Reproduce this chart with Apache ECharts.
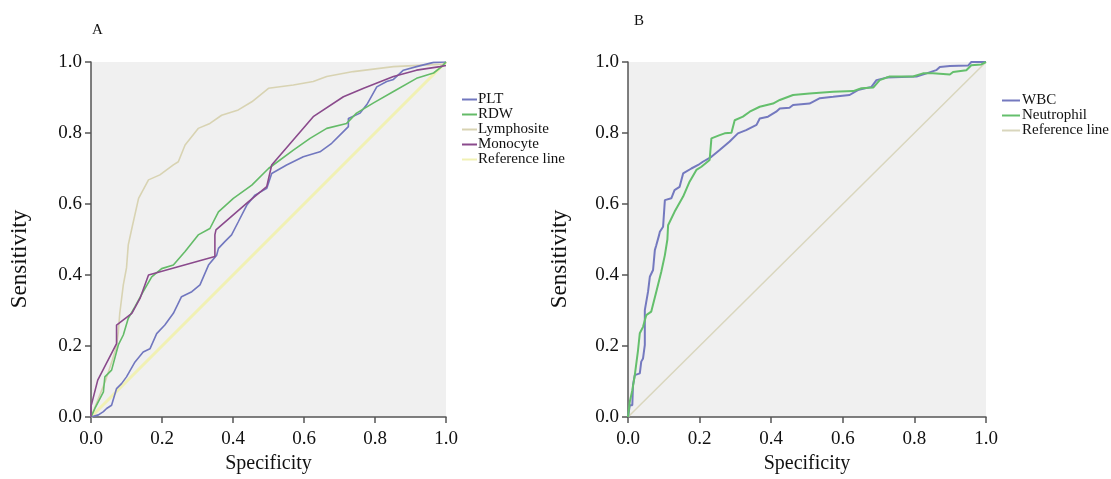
<!DOCTYPE html>
<html>
<head>
<meta charset="utf-8">
<script src="https://cdn.jsdelivr.net/npm/echarts@6/dist/echarts.min.js"></script>
<style>html,body{margin:0;padding:0;background:#fff;}#c{width:1111px;height:479px;}</style>
</head>
<body>
<div id="c"></div>
<script>
// ---- Panel A data ----
const pltX = [0,0.021,0.035,0.044,0.058,0.072,0.086,0.1,0.124,0.147,0.166,0.185,0.208,0.232,0.255,0.284,0.307,0.331,0.354,0.359,0.377,0.396,0.415,0.439,0.462,0.495,0.509,0.551,0.598,0.645,0.678,0.701,0.725,0.725,0.758,0.777,0.805,0.833,0.852,0.88,0.917,0.965,1.0];
const pltY = [0,0.006,0.015,0.024,0.033,0.08,0.094,0.113,0.155,0.183,0.192,0.235,0.259,0.292,0.339,0.353,0.372,0.428,0.456,0.475,0.494,0.513,0.55,0.597,0.625,0.644,0.686,0.71,0.733,0.747,0.771,0.794,0.818,0.841,0.856,0.88,0.93,0.945,0.951,0.977,0.987,0.999,1.0];
const rdwX = [0,0.011,0.035,0.039,0.058,0.077,0.091,0.105,0.124,0.147,0.171,0.199,0.232,0.265,0.302,0.335,0.359,0.401,0.453,0.5,0.57,0.617,0.664,0.72,0.748,0.796,0.852,0.917,0.965,0.988,1.0];
const rdwY = [0,0.024,0.071,0.113,0.132,0.203,0.231,0.278,0.311,0.353,0.395,0.418,0.428,0.466,0.513,0.531,0.578,0.616,0.653,0.7,0.752,0.785,0.813,0.827,0.856,0.885,0.917,0.954,0.969,0.987,1.0];
const lymX = [0,0.02,0.04,0.06,0.072,0.077,0.081,0.091,0.1,0.105,0.115,0.134,0.162,0.194,0.232,0.246,0.265,0.302,0.335,0.368,0.415,0.453,0.5,0.57,0.626,0.664,0.739,0.852,0.992,1.0];
const lymY = [0,0.05,0.1,0.16,0.2,0.24,0.292,0.372,0.42,0.485,0.531,0.616,0.668,0.682,0.71,0.719,0.766,0.813,0.827,0.85,0.865,0.888,0.926,0.935,0.945,0.959,0.973,0.987,0.994,1.0];
const monX = [0,0,0.019,0.072,0.072,0.115,0.138,0.162,0.349,0.349,0.352,0.443,0.495,0.509,0.626,0.711,0.768,0.852,0.917,0.983,1.0];
const monY = [0,0.03,0.104,0.207,0.259,0.292,0.334,0.40,0.452,0.513,0.527,0.606,0.649,0.71,0.846,0.902,0.926,0.959,0.977,0.987,0.99];
// ---- Panel B data ----
const wbcX = [0,0.005,0.012,0.014,0.019,0.033,0.037,0.042,0.047,0.047,0.051,0.056,0.061,0.07,0.075,0.079,0.087,0.089,0.098,0.103,0.121,0.13,0.144,0.154,0.177,0.196,0.209,0.233,0.256,0.284,0.307,0.33,0.359,0.368,0.391,0.414,0.424,0.451,0.461,0.507,0.536,0.573,0.619,0.642,0.68,0.694,0.722,0.806,0.834,0.861,0.871,0.899,0.95,0.959,1.0];
const wbcY = [0,0.033,0.033,0.09,0.118,0.123,0.156,0.165,0.203,0.301,0.306,0.353,0.395,0.414,0.47,0.484,0.513,0.522,0.536,0.611,0.616,0.639,0.648,0.686,0.7,0.71,0.719,0.733,0.752,0.776,0.799,0.808,0.823,0.841,0.846,0.86,0.869,0.871,0.879,0.883,0.898,0.902,0.907,0.921,0.93,0.949,0.956,0.959,0.968,0.977,0.986,0.989,0.99,1.0,1.0];
const neuX = [0,0.005,0.012,0.019,0.028,0.033,0.042,0.051,0.065,0.079,0.093,0.103,0.11,0.112,0.13,0.154,0.172,0.191,0.205,0.228,0.233,0.256,0.27,0.289,0.298,0.321,0.34,0.368,0.405,0.424,0.461,0.507,0.573,0.629,0.652,0.685,0.703,0.731,0.796,0.824,0.852,0.899,0.908,0.945,0.959,0.987,1.0];
const neuY = [0,0.043,0.075,0.118,0.188,0.236,0.254,0.287,0.297,0.353,0.409,0.456,0.5,0.54,0.578,0.621,0.663,0.696,0.705,0.724,0.785,0.794,0.799,0.801,0.836,0.846,0.86,0.874,0.883,0.893,0.907,0.911,0.916,0.918,0.926,0.928,0.949,0.959,0.959,0.968,0.968,0.965,0.972,0.977,0.991,0.993,1.0];
const refX = [0,1];
const refY = [0,1];
const tickLabels = ['0.0','0.2','0.4','0.6','0.8','1.0'];
const namesA = ['PLT','RDW','Lymphosite','Monocyte','Reference line'];
const namesB = ['WBC','Neutrophil','Reference line '];

const pairs = (xs, ys) => xs.map((x, i) => [x, ys[i]]);
const FONT = "'Liberation Serif','Times New Roman',serif";

function xAxisCfg(gi) {
  return {
    type: 'value', gridIndex: gi, min: 0, max: 1, interval: 0.2,
    name: 'Specificity', nameLocation: 'middle', nameGap: 35,
    nameTextStyle: {fontFamily: FONT, fontSize: 20, color: '#111'},
    axisLine: {show: true, onZero: false, lineStyle: {color: '#555', width: 1.5}},
    axisTick: {show: true, length: 6, lineStyle: {color: '#555', width: 1.5}},
    axisLabel: {fontFamily: FONT, fontSize: 19, color: '#111', margin: 13,
      formatter: v => tickLabels[Math.round(v * 5)]},
    splitLine: {show: false}
  };
}
function yAxisCfg(gi, gap) {
  return {
    type: 'value', gridIndex: gi, min: 0, max: 1, interval: 0.2,
    name: 'Sensitivity', nameLocation: 'middle', nameGap: gap,
    nameTextStyle: {fontFamily: FONT, fontSize: 23, color: '#111', padding: [0, 39, 0, 0]},
    axisLine: {show: true, onZero: false, lineStyle: {color: '#555', width: 1.5}},
    axisTick: {show: true, length: 6, lineStyle: {color: '#555', width: 1.5}},
    axisLabel: {fontFamily: FONT, fontSize: 19, color: '#111', margin: 9,
      formatter: v => tickLabels[Math.round(v * 5)]},
    splitLine: {show: false}
  };
}
function lineSeries(name, xs, ys, color, width, gi) {
  return {
    name: name, type: 'line', xAxisIndex: gi, yAxisIndex: gi,
    data: pairs(xs, ys), showSymbol: false, symbol: 'none', silent: true,
    lineStyle: {color: color, width: width}, itemStyle: {color: color},
    animation: false
  };
}

const chart = echarts.init(document.getElementById('c'));
chart.setOption({
  backgroundColor: '#fff',
  animation: false,
  title: [
    {text: 'A', left: 92, top: 23, padding: 0, textStyle: {fontFamily: FONT, fontSize: 15, fontWeight: 'normal', color: '#111'}},
    {text: 'B', left: 634, top: 14, padding: 0, textStyle: {fontFamily: FONT, fontSize: 15, fontWeight: 'normal', color: '#111'}}
  ],
  grid: [
    {left: 91, top: 62, width: 355, height: 355, show: true, backgroundColor: '#f0f0f0', borderWidth: 0},
    {left: 628, top: 62, width: 358, height: 355, show: true, backgroundColor: '#f0f0f0', borderWidth: 0}
  ],
  xAxis: [xAxisCfg(0), xAxisCfg(1)],
  yAxis: [yAxisCfg(0, 60), yAxisCfg(1, 57)],
  legend: [
    {data: namesA, orient: 'vertical', left: 462, top: 92, padding: 0, icon: 'rect', itemWidth: 15, itemHeight: 2,
      itemGap: 0, selectedMode: false,
      textStyle: {fontFamily: FONT, fontSize: 15, color: '#111', lineHeight: 14.5, padding: [0, 0, 0, -4]}},
    {data: namesB, orient: 'vertical', left: 1002, top: 93, padding: 0, icon: 'rect', itemWidth: 18, itemHeight: 2,
      itemGap: 0, selectedMode: false,
      textStyle: {fontFamily: FONT, fontSize: 15, color: '#111', lineHeight: 15, padding: [0, 0, 0, -3]}}
  ],
  series: [
    lineSeries('Reference line', refX, refY, '#f1f1b4', 3, 0),
    lineSeries('Lymphosite', lymX, lymY, '#d8d3b2', 1.6, 0),
    lineSeries('PLT', pltX, pltY, '#7177bf', 1.6, 0),
    lineSeries('RDW', rdwX, rdwY, '#64bb68', 1.6, 0),
    lineSeries('Monocyte', monX, monY, '#8a4a8c', 1.6, 0),
    lineSeries('Reference line ', refX, refY, '#d9d6bd', 1.5, 1),
    lineSeries('WBC', wbcX, wbcY, '#7479bf', 2, 1),
    lineSeries('Neutrophil', neuX, neuY, '#64bf6c', 2, 1)
  ]
});
</script>
</body>
</html>
